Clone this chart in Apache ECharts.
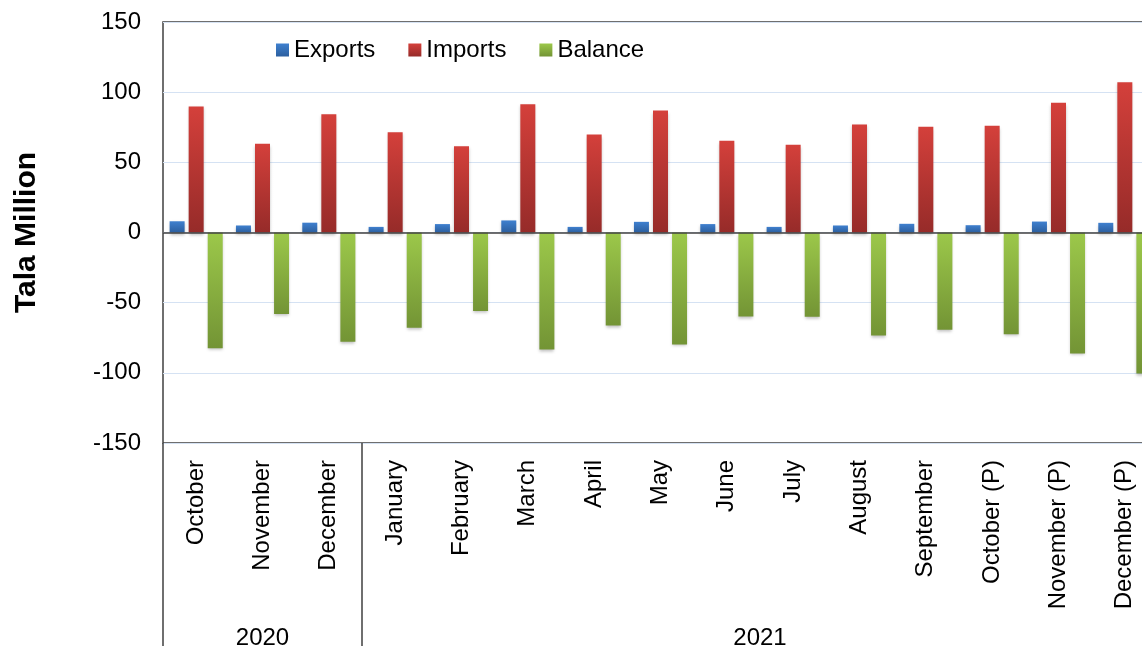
<!DOCTYPE html>
<html>
<head>
<meta charset="utf-8">
<script src="https://cdn.jsdelivr.net/npm/echarts@6/dist/echarts.min.js"></script>
<style>
html,body{margin:0;padding:0;background:#fff;}
#chart{width:1142px;height:646px;}
</style>
</head>
<body>
<div id="chart"></div>
<script>
var categories = ['October','November','December','January','February','March','April','May','June','July','August','September','October (P)','November (P)','December (P)'];
var exportsData = [8, 5, 7, 4, 6, 8.6, 4, 7.6, 6, 4, 5, 6.2, 5.2, 7.8, 6.9];
var importsData = [89.8, 63.2, 84.3, 71.5, 61.5, 91.4, 69.8, 86.9, 65.3, 62.5, 77, 75.3, 76, 92.4, 107.1];
var balanceData = [-82.4, -58, -77.9, -67.9, -56, -83.4, -66.3, -79.8, -59.9, -60, -73.4, -69.3, -72.5, -86.2, -100.5];
var yearLabels = ['2020', '2021'];
var yearSpans = [3, 12];
var yMin = -150, yMax = 150, yStep = 50;

// year group boundaries and centres (in category units)
var yearBounds = [0], yearCentres = [];
(function(){
  var acc = 0;
  for (var i = 0; i < yearSpans.length; i++) {
    yearCentres.push(acc + yearSpans[i] / 2);
    acc += yearSpans[i];
    yearBounds.push(acc);
  }
})();

var FONT = '"Liberation Sans", Arial, sans-serif';
function grad(top, bottom) {
  return new echarts.graphic.LinearGradient(0, 0, 0, 1, [
    {offset: 0, color: top}, {offset: 1, color: bottom}
  ]);
}
var shadow = {shadowColor: 'rgba(0,0,0,0.25)', shadowBlur: 3, shadowOffsetY: 2};

var chart = echarts.init(document.getElementById('chart'));
chart.setOption({
  animation: false,
  backgroundColor: '#fff',
  textStyle: {fontFamily: FONT},
  grid: {
    left: 163, top: 22, width: 995, height: 421,
    show: true, borderColor: '#404040', borderWidth: 1.5,
    containLabel: false, outerBoundsMode: 'none'
  },
  legend: {
    left: 271, top: 33,
    itemWidth: 13, itemHeight: 13, itemGap: 33,
    icon: 'rect',
    textStyle: {fontSize: 24, color: '#000', fontFamily: FONT},
    data: ['Exports', 'Imports', 'Balance']
  },
  xAxis: [
    {
      type: 'category', data: categories, position: 'bottom',
      axisLine: {show: false, onZero: false},
      axisTick: {show: false},
      axisLabel: {rotate: 90, interval: 0, margin: 17, fontSize: 24, color: '#000', fontFamily: FONT},
      splitLine: {show: false}
    },
    {
      type: 'value', position: 'bottom', min: 0, max: categories.length,
      axisLine: {show: false, onZero: false},
      axisTick: {show: true, customValues: yearBounds, length: 210, inside: false,
        lineStyle: {color: '#404040', width: 1.5}},
      axisLabel: {show: true, customValues: yearCentres, margin: 183, fontSize: 24, color: '#000', fontFamily: FONT,
        formatter: function (v) {
          for (var i = 0; i < yearCentres.length; i++) {
            if (Math.abs(yearCentres[i] - v) < 1e-6) return yearLabels[i];
          }
          return '';
        }},
      splitLine: {show: false}
    }
  ],
  yAxis: {
    type: 'value', min: yMin, max: yMax, interval: yStep,
    name: 'Tala Million', nameLocation: 'middle', nameGap: 121,
    nameTextStyle: {fontSize: 30, fontWeight: 'bold', color: '#000', fontFamily: FONT},
    axisLine: {show: false},
    axisTick: {show: false},
    axisLabel: {margin: 22, fontSize: 24, color: '#000', fontFamily: FONT},
    splitLine: {show: true, lineStyle: {color: '#d5e2f3', width: 1}}
  },
  series: [
    {
      name: 'Exports', type: 'bar', data: exportsData,
      barWidth: 15, barGap: '27%',
      itemStyle: Object.assign({color: grad('#3f80cf', '#2c5f9f')}, shadow),
      markLine: {
        silent: true, symbol: ['none', 'none'], label: {show: false},
        lineStyle: {color: '#404040', width: 1.5, type: 'solid'},
        data: [{yAxis: 0}]
      }
    },
    {
      name: 'Imports', type: 'bar', data: importsData,
      barWidth: 15, barGap: '27%',
      itemStyle: Object.assign({color: grad('#d4403b', '#962b29')}, shadow)
    },
    {
      name: 'Balance', type: 'bar', data: balanceData,
      barWidth: 15, barGap: '27%',
      itemStyle: Object.assign({color: grad('#9cc84a', '#739435')}, shadow)
    }
  ]
});
</script>
</body>
</html>
